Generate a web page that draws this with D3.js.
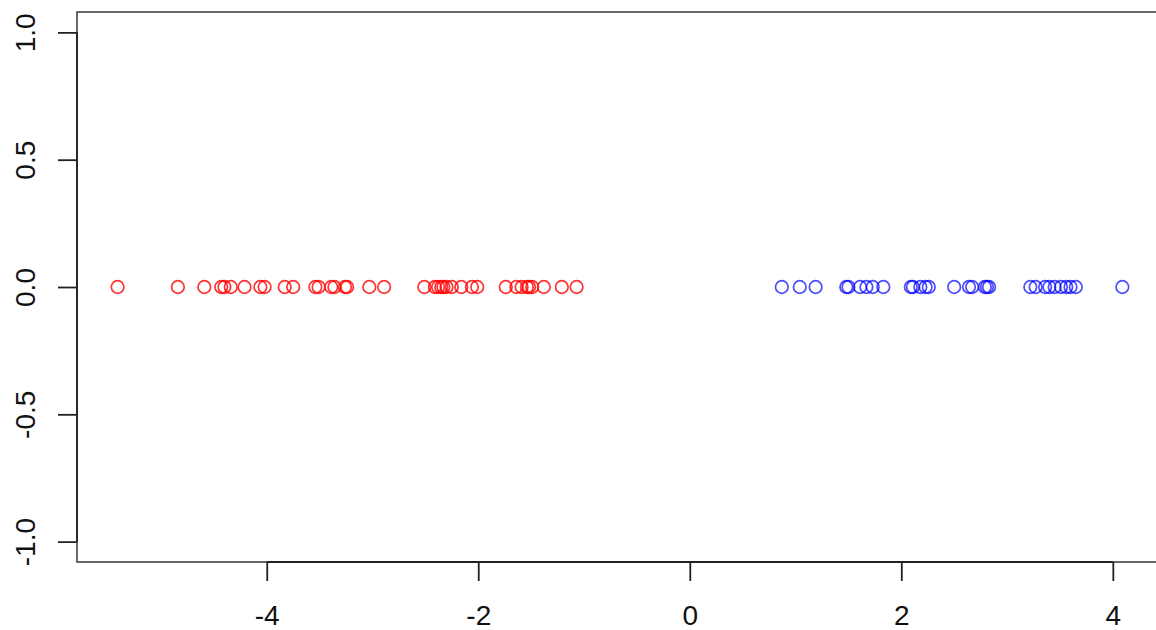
<!DOCTYPE html>
<html>
<head>
<meta charset="utf-8">
<script src="https://cdn.jsdelivr.net/npm/d3@7"></script>
<style>
  html, body { margin: 0; padding: 0; background: #fff; }
  svg { display: block; }
  text { font-family: "Liberation Sans", Arial, sans-serif; }
</style>
</head>
<body>
<svg id="chart" width="1156" height="630"></svg>
<script>
// Data (all points lie at y = 0)
const redX = [-5.41, -4.84, -4.59, -4.43, -4.40, -4.34, -4.21, -4.06, -4.02, -3.83, -3.75,
  -3.54, -3.51, -3.39, -3.36, -3.26, -3.24, -3.03, -2.89, -2.51, -2.41, -2.38, -2.35,
  -2.33, -2.30, -2.25, -2.16, -2.06, -2.01, -1.74, -1.64, -1.59, -1.54, -1.52, -1.49,
  -1.38, -1.21, -1.07];
const blueX = [0.87, 1.04, 1.19, 1.48, 1.50, 1.61, 1.67, 1.73, 1.83, 2.09, 2.11, 2.18,
  2.23, 2.26, 2.50, 2.64, 2.67, 2.79, 2.81, 2.83, 3.22, 3.27, 3.36, 3.40, 3.45, 3.51,
  3.56, 3.60, 3.65, 4.09];
const xTicks = [-4, -2, 0, 2, 4];
const yTicks = [-1.0, -0.5, 0.0, 0.5, 1.0];

const svg = d3.select("#chart");
const mLeft = 77, mRight = 1162, mTop = 12, mBottom = 562;

const x = d3.scaleLinear().domain([-5.794, 4.465]).range([mLeft, mRight]);
const y = d3.scaleLinear().domain([-1.08, 1.08]).range([mBottom, mTop]);

// plot box
svg.append("rect")
  .attr("x", mLeft).attr("y", mTop)
  .attr("width", mRight - mLeft).attr("height", mBottom - mTop)
  .attr("fill", "none").attr("stroke", "#444").attr("stroke-width", 1.6);

// x axis
const xAxis = svg.append("g")
  .attr("transform", `translate(0,${mBottom})`)
  .call(d3.axisBottom(x).tickValues(xTicks).tickFormat(d3.format("d"))
        .tickSizeInner(19).tickSizeOuter(0).tickPadding(24));
xAxis.select(".domain").attr("d", `M${x(xTicks[0])},0H${x(xTicks[xTicks.length-1])}`)
  .attr("stroke", "#222").attr("stroke-width", 1.8);
xAxis.selectAll(".tick line").attr("stroke", "#222").attr("stroke-width", 1.8);
xAxis.selectAll(".tick text").attr("font-size", 28).attr("fill", "#111")
  .attr("font-family", "Liberation Sans, Arial, sans-serif")
  .text(d => d < 0 ? "-" + Math.abs(d) : d);

// y axis
const yAxis = svg.append("g")
  .attr("transform", `translate(${mLeft},0)`)
  .call(d3.axisLeft(y).tickValues(yTicks).tickFormat(d3.format(".1f"))
        .tickSizeInner(19).tickSizeOuter(0));
yAxis.select(".domain").attr("d", `M0,${y(yTicks[0])}V${y(yTicks[yTicks.length-1])}`)
  .attr("stroke", "#222").attr("stroke-width", 1.8);
yAxis.selectAll(".tick line").attr("stroke", "#222").attr("stroke-width", 1.8);
yAxis.selectAll(".tick text")
  .attr("font-size", 28).attr("fill", "#111")
  .attr("font-family", "Liberation Sans, Arial, sans-serif")
  .attr("x", null).attr("dy", null)
  .attr("text-anchor", "middle")
  .attr("transform", "translate(-42,0) rotate(-90)")
  .text(d => d < 0 ? "-" + d3.format(".1f")(Math.abs(d)) : d3.format(".1f")(d));

// points
svg.append("g").selectAll("circle").data(redX).join("circle")
  .attr("cx", d => x(d)).attr("cy", y(0)).attr("r", 6.3)
  .attr("fill", "none").attr("stroke", "rgba(255,0,0,0.8)").attr("stroke-width", 1.7);
svg.append("g").selectAll("circle").data(blueX).join("circle")
  .attr("cx", d => x(d)).attr("cy", y(0)).attr("r", 6.3)
  .attr("fill", "none").attr("stroke", "rgba(0,0,255,0.7)").attr("stroke-width", 1.7);
</script>
</body>
</html>
